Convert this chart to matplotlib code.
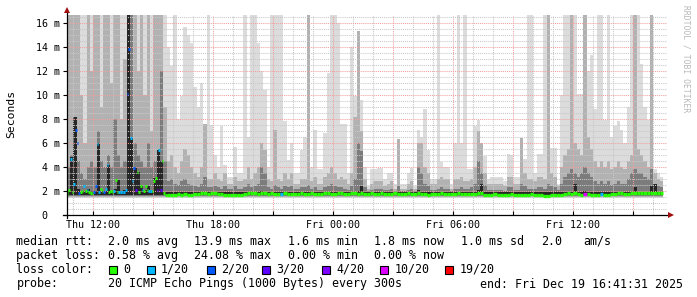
import numpy as np
import matplotlib
matplotlib.use("Agg")
import matplotlib.pyplot as plt
from matplotlib.patches import Rectangle
from matplotlib.lines import Line2D
from matplotlib.ticker import MultipleLocator, FuncFormatter

W, H = 697, 297
MONO = "DejaVu Sans Mono"
plt.rcParams["font.family"] = MONO

# time axis: hours from Thu 12:00, graph runs Thu 10:41:31 .. Fri 16:41:31
t_start = -(1 + 18 / 60 + 29 / 3600)
t_end = t_start + 30

time_ticks = [0, 6, 12, 18, 24]
time_labels = ["Thu 12:00", "Thu 18:00", "Fri 00:00", "Fri 06:00", "Fri 12:00"]
y_ticks = [0, 2, 4, 6, 8, 10, 12, 14, 16]
y_labels = ["0  ", "2 m", "4 m", "6 m", "8 m", "10 m", "12 m", "14 m", "16 m"]

# smoke, 10 minute bins (ms) - max ping, upper band, inner band, core
smoke_top = [
    16.7, 16.7, 16.7, 16.7, 16.7, 16.7, 16.7, 16.7, 16.7, 16.7,
    16.7, 16.7, 16.7, 16.7, 16.7, 16.7, 16.7, 16.7, 16.7, 16.7,
    16.7, 16.7, 16.7, 16.7, 16.7, 16.7, 16.7, 16.7, 16.7, 16.7,
    14.0, 12.4, 16.7, 8.0, 9.9, 15.7, 15.0, 14.3, 10.7, 9.0,
    11.0, 7.6, 16.7, 7.5, 5.0, 4.0, 7.4, 4.2, 3.2, 3.2,
    5.7, 3.5, 3.5, 16.7, 6.5, 16.7, 16.7, 14.3, 12.0, 10.4,
    4.0, 16.7, 16.7, 16.7, 16.7, 7.8, 4.6, 6.0, 3.5, 3.5,
    5.4, 6.5, 16.7, 4.0, 7.1, 3.8, 3.8, 6.8, 11.8, 16.7,
    16.7, 16.0, 7.6, 7.6, 3.5, 14.0, 9.9, 15.3, 9.6, 4.0,
    2.4, 3.8, 3.8, 3.9, 3.9, 3.0, 3.5, 3.5, 2.6, 6.3,
    2.6, 2.6, 3.5, 3.9, 2.4, 7.1, 6.5, 8.8, 5.4, 3.0,
    3.0, 16.7, 4.4, 4.0, 4.0, 2.6, 6.0, 16.7, 6.0, 16.7,
    3.8, 3.8, 7.4, 7.9, 6.0, 4.9, 3.0, 3.2, 3.2, 3.2,
    3.2, 2.8, 5.1, 5.0, 3.2, 3.2, 6.4, 4.7, 16.7, 16.7,
    3.5, 5.1, 5.1, 16.7, 16.7, 5.6, 5.6, 2.6, 10.0, 16.7,
    16.7, 16.7, 16.7, 10.1, 10.1, 16.7, 12.0, 13.3, 8.8, 16.7,
    16.7, 7.9, 16.7, 6.5, 7.4, 7.8, 7.1, 6.0, 9.0, 16.7,
    16.7, 16.7, 12.6, 9.0, 7.9, 16.7, 3.8, 3.5, 3.2,
]
smoke_mid = [
    16.7, 16.7, 16.7, 16.7, 10.0, 6.0, 16.7, 12.0, 16.7, 16.7,
    9.0, 16.7, 16.7, 11.0, 16.7, 16.7, 8.0, 13.0, 16.7, 16.7,
    16.7, 12.0, 16.7, 10.0, 16.7, 7.0, 16.7, 16.7, 16.7, 9.0,
    4.5, 5.0, 4.0, 3.5, 4.5, 5.5, 5.0, 4.0, 3.5, 3.2,
    4.0, 7.6, 3.0, 3.0, 3.5, 3.0, 2.8, 3.5, 2.6, 2.6,
    3.2, 2.8, 2.8, 3.0, 4.0, 3.0, 3.5, 4.0, 6.0, 5.4,
    3.0, 2.8, 7.1, 3.0, 2.8, 3.5, 3.0, 3.5, 2.6, 2.6,
    3.0, 3.0, 16.7, 2.8, 3.2, 2.6, 2.6, 3.2, 3.5, 4.0,
    3.5, 3.0, 3.2, 3.0, 2.6, 3.5, 8.2, 15.3, 7.0, 3.0,
    2.2, 2.6, 2.8, 2.8, 2.8, 2.4, 2.6, 2.8, 2.2, 6.3,
    2.2, 2.2, 2.6, 2.8, 2.2, 6.0, 6.0, 4.0, 3.5, 2.6,
    2.6, 3.0, 3.2, 3.0, 3.0, 2.2, 3.0, 3.0, 3.2, 2.8,
    2.8, 3.0, 4.0, 7.0, 6.0, 3.5, 2.6, 2.6, 2.6, 2.6,
    2.6, 2.4, 3.2, 3.2, 2.6, 2.6, 6.4, 3.5, 3.0, 3.0,
    2.8, 3.2, 3.2, 3.0, 16.7, 3.5, 3.2, 2.4, 4.0, 5.0,
    5.5, 16.7, 6.0, 5.5, 5.0, 16.7, 6.5, 5.5, 4.5, 4.0,
    4.5, 4.0, 4.5, 3.8, 4.0, 4.5, 4.0, 3.8, 4.5, 5.0,
    16.7, 5.5, 5.0, 4.5, 4.0, 16.7, 3.5, 3.0, 2.8,
]
smoke_dark = [
    4.0, 5.0, 5.5, 4.5, 3.5, 3.0, 4.0, 4.5, 4.0, 7.0,
    4.5, 4.0, 5.0, 4.0, 8.0, 5.0, 4.0, 4.5, 16.7, 16.7,
    6.0, 5.0, 4.5, 4.0, 6.0, 4.0, 4.5, 5.5, 12.0, 4.5,
    2.8, 3.0, 2.6, 2.5, 2.8, 3.0, 2.6, 2.5, 2.4, 2.3,
    2.6, 3.2, 2.3, 2.3, 2.4, 2.3, 2.2, 2.4, 2.2, 2.2,
    2.4, 2.2, 2.2, 2.3, 2.6, 2.3, 2.4, 2.6, 4.0, 3.5,
    2.3, 2.2, 2.5, 2.3, 2.2, 2.4, 2.3, 2.4, 2.2, 2.2,
    2.3, 2.3, 2.5, 2.2, 2.3, 2.1, 2.1, 2.3, 2.4, 2.6,
    2.4, 2.3, 2.3, 2.2, 2.1, 2.4, 3.0, 6.0, 5.3, 2.3,
    2.0, 2.1, 2.2, 2.2, 2.2, 2.1, 2.1, 2.2, 2.0, 2.4,
    2.0, 2.0, 2.1, 2.2, 2.0, 4.0, 3.5, 2.6, 2.4, 2.1,
    2.1, 2.2, 2.3, 2.2, 2.2, 2.0, 2.2, 2.2, 2.3, 2.2,
    2.2, 2.3, 2.6, 4.5, 3.5, 2.5, 2.1, 2.1, 2.1, 2.1,
    2.1, 2.0, 2.3, 2.3, 2.1, 2.1, 2.6, 2.4, 2.2, 2.2,
    2.2, 2.3, 2.3, 2.2, 2.6, 2.4, 2.3, 2.1, 2.6, 3.2,
    3.5, 3.8, 3.5, 3.2, 3.5, 4.0, 3.5, 3.2, 2.8, 2.6,
    2.8, 2.6, 2.8, 2.5, 2.6, 2.8, 2.6, 2.6, 3.0, 3.5,
    3.8, 3.5, 3.5, 3.2, 3.0, 3.8, 2.6, 2.4, 2.3,
]
smoke_core = [
    2.0, 4.8, 8.2, 2.2, 2.0, 2.0, 2.2, 2.0, 2.0, 6.0,
    2.0, 2.0, 4.2, 2.0, 2.2, 2.9, 2.0, 2.1, 16.7, 6.4,
    3.9, 3.6, 2.4, 2.1, 2.4, 2.0, 3.1, 5.4, 4.5, 1.9,
    1.9, 1.9, 1.9, 1.9, 1.9, 1.9, 1.9, 1.9, 1.9, 1.9,
    1.9, 1.9, 1.9, 1.9, 1.9, 1.9, 1.9, 1.9, 1.9, 1.9,
    1.9, 1.9, 1.9, 1.9, 1.9, 1.9, 1.9, 1.9, 2.0, 1.9,
    1.9, 1.9, 1.9, 1.9, 1.9, 1.9, 1.9, 1.9, 1.9, 1.9,
    1.9, 1.9, 1.9, 1.9, 1.9, 1.9, 1.9, 1.9, 1.9, 1.9,
    1.9, 1.9, 1.9, 1.9, 1.9, 1.9, 1.9, 2.0, 2.4, 1.9,
    1.9, 1.9, 1.9, 1.9, 1.9, 1.9, 1.9, 1.9, 1.9, 1.9,
    1.9, 1.9, 1.9, 1.9, 1.9, 2.1, 1.9, 1.9, 1.9, 1.9,
    1.9, 1.9, 1.9, 1.9, 1.9, 1.9, 1.9, 1.9, 1.9, 1.9,
    1.9, 1.9, 1.9, 2.1, 2.6, 1.9, 1.9, 1.9, 1.9, 1.9,
    1.9, 1.9, 1.9, 1.9, 1.9, 1.9, 1.9, 1.9, 1.9, 1.9,
    1.9, 1.9, 1.9, 1.9, 1.9, 1.9, 1.9, 1.9, 1.9, 1.9,
    1.9, 1.9, 2.6, 1.9, 1.9, 2.0, 1.9, 1.9, 1.9, 1.9,
    1.9, 1.9, 1.9, 1.9, 1.9, 1.9, 1.9, 1.9, 1.9, 1.9,
    2.3, 1.9, 1.9, 1.9, 1.9, 2.4, 2.6, 1.9, 1.9,
]
smoke_floor = 1.5

# median rtt, first 5 hours at 5 minute steps (ms) and lost pings out of 20
early_med = [
    1.8, 2.1, 4.7, 1.9, 2.6, 7.1, 6.0, 1.8, 1.9, 2.0,
    2.4, 2.0, 2.1, 1.9, 1.8, 1.8, 1.9, 2.4, 5.9, 1.9,
    2.2, 2.0, 1.9, 2.2, 4.2, 1.9, 2.0, 1.9, 2.0, 2.9,
    1.9, 1.9, 1.9, 1.9, 1.9, 2.1, 10.1, 13.8, 6.4, 2.8,
    3.9, 2.1, 3.6, 1.9, 2.4, 2.1, 2.0, 2.4, 2.1, 2.0,
    2.0, 2.0, 2.8, 3.1, 2.1, 5.4, 2.1, 4.5, 1.8, 1.7,
]
early_loss = [
    0, 0, 1, 0, 1, 2, 2, 2, 0, 0,
    1, 0, 1, 0, 0, 0, 2, 2, 1, 1,
    0, 0, 2, 1, 1, 0, 0, 0, 1, 0,
    0, 1, 1, 1, 1, 1, 2, 2, 1, 1,
    2, 3, 0, 0, 0, 1, 0, 0, 0, 1,
    1, 0, 0, 0, 3, 1, 3, 0, 0, 0,
]
# median rtt for the rest, 10 minute steps
late_med = [
    1.7, 1.65, 1.7, 1.75, 1.7, 1.75, 1.7, 1.7, 1.75, 1.75,
    1.8, 1.8, 1.75, 1.8, 1.8, 1.75, 1.75, 1.7, 1.7, 1.65,
    1.65, 1.65, 1.7, 1.75, 1.8, 1.8, 1.8, 1.75, 1.8, 1.8,
    1.75, 1.8, 1.75, 1.75, 1.75, 1.8, 1.75, 1.75, 1.75, 1.75,
    1.8, 1.75, 1.75, 1.8, 1.75, 1.75, 1.75, 1.8, 1.8, 1.75,
    1.75, 1.8, 1.8, 1.75, 1.75, 1.8, 1.8, 1.75, 1.8, 1.75,
    1.75, 1.8, 1.75, 1.75, 1.8, 1.75, 1.75, 1.75, 1.8, 1.75,
    1.75, 1.75, 1.8, 1.75, 1.75, 1.8, 1.75, 1.75, 1.7, 1.75,
    1.75, 1.75, 1.8, 1.75, 1.75, 1.75, 1.75, 1.8, 1.75, 1.75,
    1.75, 1.75, 1.75, 1.8, 1.8, 1.7, 1.7, 1.7, 1.75, 1.7,
    1.7, 1.7, 1.7, 1.75, 1.7, 1.7, 1.7, 1.7, 1.7, 1.75,
    1.7, 1.65, 1.65, 1.6, 1.6, 1.65, 1.65, 1.7, 1.7, 1.75,
    1.8, 1.75, 1.8, 1.75, 1.7, 1.75, 1.75, 1.7, 1.65, 1.7,
    1.75, 1.7, 1.7, 1.75, 1.75, 1.8, 1.8, 1.75, 1.75, 1.8,
    1.85, 1.8, 1.8, 1.8, 1.85, 1.8, 1.85, 1.8, 1.8,
]
late_loss = [
    0, 0, 0, 0, 0, 0, 0, 0, 0, 0,
    0, 0, 0, 0, 0, 0, 0, 0, 0, 0,
    0, 0, 0, 0, 0, 0, 0, 0, 0, 0,
    0, 0, 0, 0, 1, 0, 0, 0, 0, 0,
    0, 0, 0, 0, 0, 0, 0, 0, 0, 0,
    0, 0, 0, 0, 0, 0, 0, 0, 0, 0,
    0, 0, 0, 0, 0, 0, 0, 0, 0, 0,
    0, 0, 0, 0, 0, 0, 0, 0, 0, 0,
    0, 0, 0, 0, 0, 0, 0, 0, 0, 0,
    0, 0, 0, 0, 0, 0, 0, 0, 0, 0,
    0, 0, 0, 0, 0, 0, 0, 0, 0, 0,
    0, 0, 0, 0, 0, 0, 0, 0, 0, 0,
    0, 0, 0, 0, 0, 10, 0, 0, 0, 0,
    1, 0, 0, 0, 0, 0, 0, 0, 0, 0,
    0, 0, 0, 0, 0, 0, 0, 0, 0,
]

loss_levels = [0, 1, 2, 3, 4, 10, 19]
loss_names = ["0", "1/20", "2/20", "3/20", "4/20", "10/20", "19/20"]
loss_colors = ["#26ff00", "#00b8ff", "#0059ff", "#5e00ff", "#7e00ff", "#dd00ff", "#ff0000"]
loss_col = dict(zip(loss_levels, loss_colors))


def fx(x):
    return x / W


def fy(y):
    return 1 - y / H


fig = plt.figure(figsize=(W / 100, H / 100), dpi=100, facecolor="white")
ax = fig.add_axes([fx(66.8), fy(215), 600 / W, 200 / H])
ax.set_facecolor("white")

n = len(smoke_top)
edges = t_start + np.arange(n + 1) / 6.0
ax.stairs(smoke_top, edges, baseline=smoke_floor - 0.05, fill=True, color="#dcdcdc", lw=0)
ax.stairs(smoke_mid, edges, baseline=smoke_floor, fill=True, color="#b2b2b2", lw=0)
ax.stairs(smoke_dark, edges, baseline=smoke_floor + 0.05, fill=True, color="#7c7c7c", lw=0)
ax.stairs(smoke_core, edges, baseline=smoke_floor + 0.15, fill=True, color="#262626", lw=0)

# median line coloured by packet loss
e5 = t_start + np.arange(len(early_med) + 1) / 12.0
ax.hlines(early_med, e5[:-1], e5[1:], colors=[loss_col[v] for v in early_loss],
          lw=2.1, capstyle="butt", zorder=4)
k0 = len(early_med) // 2
ax.hlines(late_med, edges[k0:k0 + len(late_med)], edges[k0 + 1:k0 + 1 + len(late_med)],
          colors=[loss_col[v] for v in late_loss], lw=2.4, capstyle="butt", zorder=4)

ax.set_xlim(t_start, t_end)
ax.set_ylim(0, 16.667)

tick_text = dict(zip(time_ticks, time_labels))
ax.xaxis.set_major_locator(MultipleLocator(3))
ax.xaxis.set_minor_locator(MultipleLocator(1))
ax.xaxis.set_major_formatter(FuncFormatter(lambda v, p: tick_text.get(int(round(v)), "")))
ax.set_yticks(y_ticks)
ax.set_yticklabels(y_labels)
ax.yaxis.set_minor_locator(MultipleLocator(0.5))

ax.set_axisbelow(False)
ax.grid(which="major", color="#f0a0a0", linestyle=(0, (1, 1)), lw=0.75)
ax.grid(which="minor", color="#c8c8c8", linestyle=(0, (1, 1)), lw=0.75)
ax.tick_params(axis="x", which="major", direction="in", length=3, width=0.8,
               pad=3.5, labelsize=7.2)
ax.tick_params(axis="y", which="major", direction="out", length=3, width=0.8,
               pad=2.2, labelsize=7.2)
ax.tick_params(which="minor", length=0)
for s in ax.spines.values():
    s.set_visible(False)

# axes with arrow heads like rrdtool
fig.add_artist(Line2D([fx(66.5), fx(66.5)], [fy(218), fy(12)], color="black", lw=0.9))
fig.add_artist(Line2D([fx(63), fx(669)], [fy(215.3), fy(215.3)], color="black", lw=0.9))
fig.add_artist(Line2D([fx(66.5)], [fy(10)], marker="^", ms=4.5, color="#a01010", mew=0))
fig.add_artist(Line2D([fx(671)], [fy(215.3)], marker=">", ms=4.5, color="#a01010", mew=0))

fig.text(fx(11), fy(114), "Seconds", rotation=90, ha="center", va="center", fontsize=8.2)
fig.text(fx(686), fy(5), "RRDTOOL / TOBI OETIKER", rotation=270, ha="center", va="top",
         fontsize=5.8, color="#b8b8b8")

# legend block
fs = 8.4
rows_y = [241.5, 255.5, 269.5, 284]
row1 = [("median rtt:", 16.5), ("2.0 ms avg", 108), ("13.9 ms max", 194.4), ("1.6 ms min", 288),
        ("1.8 ms now", 374.4), ("1.0 ms sd", 461), ("2.0", 540.7), ("am/s", 583)]
row2 = [("packet loss:", 16.5), ("0.58 % avg", 108), ("24.08 % max", 194.4),
        ("0.00 % min", 288), ("0.00 % now", 374.4)]
for txt, x in row1:
    fig.text(fx(x), fy(rows_y[0]), txt, ha="left", va="center", fontsize=fs)
for txt, x in row2:
    fig.text(fx(x), fy(rows_y[1]), txt, ha="left", va="center", fontsize=fs)

fig.text(fx(16.5), fy(rows_y[2]), "loss color:", ha="left", va="center", fontsize=fs)
box_x = [109, 146.6, 207, 262, 322, 380, 445]
for bx, col, name in zip(box_x, loss_colors, loss_names):
    fig.add_artist(Rectangle((fx(bx), fy(rows_y[2] + 4.5)), 8 / W, 8 / H, facecolor=col,
                             edgecolor="black", lw=0.8))
    fig.text(fx(bx + 14.5), fy(rows_y[2]), name, ha="left", va="center", fontsize=fs)

fig.text(fx(16.5), fy(rows_y[3]), "probe:", ha="left", va="center", fontsize=fs)
fig.text(fx(108), fy(rows_y[3]), "20 ICMP Echo Pings (1000 Bytes) every 300s", ha="left",
         va="center", fontsize=fs)
fig.text(fx(683.5), fy(rows_y[3]), "end: Fri Dec 19 16:41:31 2025", ha="right", va="center",
         fontsize=fs)

fig.savefig("out.png", dpi=100, facecolor="white")
